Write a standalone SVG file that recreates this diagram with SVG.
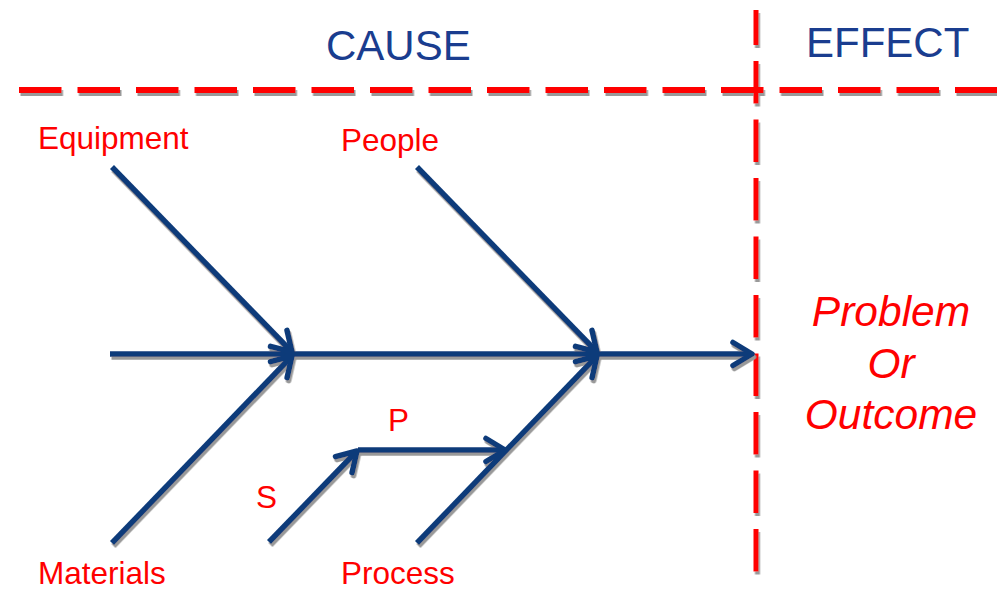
<svg xmlns="http://www.w3.org/2000/svg" width="997" height="590" viewBox="0 0 997 590">
<style>
.bone{stroke:#0d3b7a;stroke-width:5.5;fill:none;marker-end:url(#arr)}
.dash{stroke:#ff0000;stroke-width:6;fill:none;stroke-dasharray:42.5 16}
.lbl{font-family:"Liberation Sans",Arial,sans-serif;font-size:31.5px;fill:#ff0000}
.hdr{font-family:"Liberation Sans",Arial,sans-serif;font-size:42px;fill:#1a3d8f}
.eff{font-family:"Liberation Sans",Arial,sans-serif;font-size:42.5px;font-style:italic;fill:#ff0000;text-anchor:middle}
</style>
<defs>
<filter id="sh" x="-10%" y="-10%" width="120%" height="120%">
<feDropShadow dx="1.5" dy="3" stdDeviation="0.4" flood-color="#999999" flood-opacity="1"/>
</filter>
<marker id="arr" markerUnits="userSpaceOnUse" markerWidth="40" markerHeight="40" viewBox="-30 -20 40 40" refX="0" refY="0" orient="auto">
<path d="M-19,-11.5 L0,0 L-19,11.5" stroke="#0d3b7a" stroke-width="5.5" fill="none" stroke-linecap="round" stroke-linejoin="round"/>
</marker>
</defs>
<rect width="997" height="590" fill="#ffffff"/>
<g id="dividers" filter="url(#sh)">
<line class="dash" x1="19" y1="90" x2="997" y2="90"/>
<line class="dash" x1="756" y1="10" x2="756" y2="576" style="stroke-width:5;stroke-dashoffset:7.5"/>
</g>
<g id="connectors" filter="url(#sh)">
<line class="bone" x1="110" y1="354" x2="752" y2="354"/>
<line class="bone" x1="112" y1="167" x2="292" y2="352"/>
<line class="bone" x1="112" y1="543" x2="292" y2="356"/>
<line class="bone" x1="417" y1="167" x2="597" y2="352"/>
<line class="bone" x1="417" y1="543" x2="597" y2="356"/>
<line class="bone" x1="269" y1="542" x2="357" y2="451"/>
<line class="bone" x1="358" y1="450" x2="505" y2="450"/>
</g>
<g id="cause"><text class="hdr" x="326" y="60">CAUSE</text></g>
<g id="effect"><text class="hdr" x="806" y="57">EFFECT</text></g>
<g id="equipment"><text class="lbl" x="38" y="149">Equipment</text></g>
<g id="people"><text class="lbl" x="341" y="151">People</text></g>
<g id="materials"><text class="lbl" x="38" y="584">Materials</text></g>
<g id="process"><text class="lbl" x="341" y="584">Process</text></g>
<g id="s"><text class="lbl" x="256" y="508">S</text></g>
<g id="p"><text class="lbl" x="388" y="431">P</text></g>
<g id="outcome">
<text class="eff" x="891" y="326">Problem</text>
<text class="eff" x="891" y="378">Or</text>
<text class="eff" x="891" y="429">Outcome</text>
</g>
</svg>
